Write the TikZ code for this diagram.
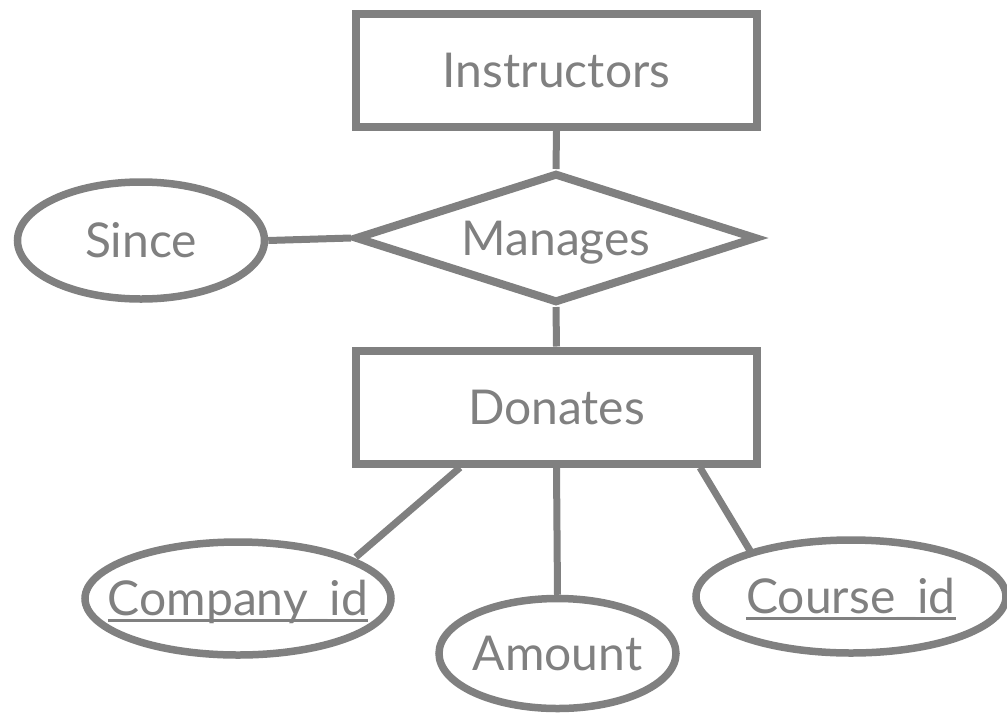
\documentclass[tikz,border=0pt]{standalone}
\usepackage{fontspec}
\setmainfont{Lato}
\usetikzlibrary{shapes.geometric}
\definecolor{ergray}{HTML}{808080}
\newcommand\ulx[1]{\setbox0\hbox{#1}\rlap{\color{ergray}\rule[-6.5pt]{\wd0}{3pt}}\box0}
\begin{document}
\begin{tikzpicture}[x=1pt,y=1pt,
  every node/.style={text=ergray,font=\fontsize{48}{54}\selectfont,text height=34pt,text depth=0pt},
  ent/.style={draw=ergray,line width=8pt,fill=white,rectangle,inner sep=0pt,minimum width=401pt,minimum height=113pt},
  rel/.style={draw=ergray,line width=8pt,fill=white,diamond,inner sep=0pt,minimum width=402pt,minimum height=130pt,shape aspect=3},
  attr/.style={draw=ergray,line width=7.5pt,fill=white,ellipse,inner ysep=0pt,inner xsep=-70pt},
  conn/.style={draw=ergray,line width=7pt}]
\useasboundingbox (0,0) rectangle (1007,-713);
\node[ent] (ins) at (556.5,-70.5) {Instructors};
\node[rel] (man) at (556,-238) {Manages};
\node[attr,minimum width=247pt,minimum height=117pt] (sin) at (141,-240.5) {Since};
\node[ent] (don) at (556.5,-407) {Donates};
\node[attr,minimum width=306pt,minimum height=113pt] (com) at (238,-598.5) {\ulx{Company\_id}};
\node[attr,minimum width=237pt,minimum height=110pt] (amt) at (557.5,-653.5) {Amount};
\node[attr,minimum width=310pt,minimum height=113pt] (cou) at (851,-596.5) {\ulx{Course\_id}};
\draw[conn] (ins.south) -- (man.north);
\draw[conn] (sin.east) -- (man.west);
\draw[conn] (man.south) -- (don.north);
\draw[conn] ([xshift=108pt]don.south west) -- ([shift={(4pt,0pt)}]com.20);
\draw[conn] (don.south) -- (amt.north);
\draw[conn] ([xshift=-61pt]don.south east) -- ([shift={(5pt,-5pt)}]cou.156);
\end{tikzpicture}
\end{document}
